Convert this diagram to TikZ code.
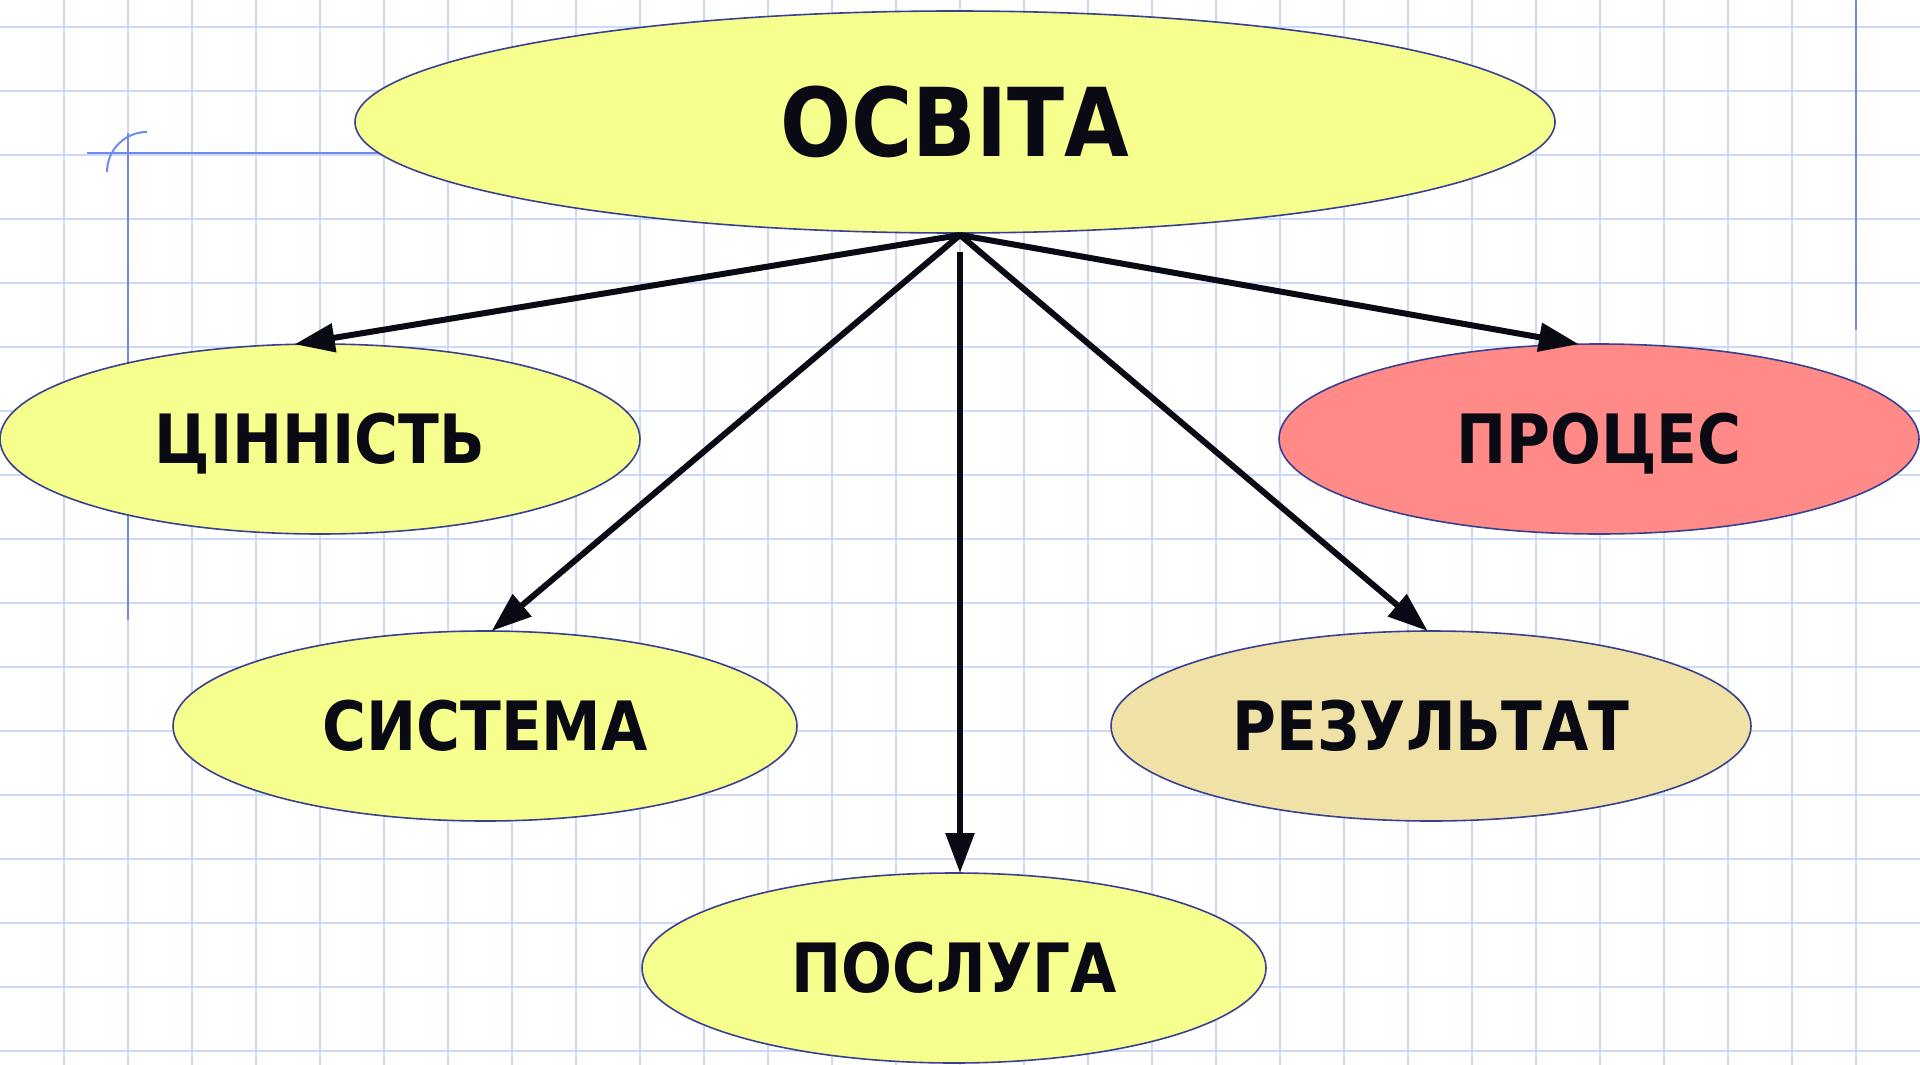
\documentclass[tikz,border=0pt]{standalone}
\usepackage{fontspec}
\newfontfamily\lblfont{DejaVu Sans}[FakeStretch=0.88]
\usetikzlibrary{arrows.meta,shapes.geometric}
\definecolor{gridc}{HTML}{CCD9F8}
\definecolor{guidec}{HTML}{6E8AF2}
\definecolor{edgec}{HTML}{3A4090}
\definecolor{yelfill}{HTML}{F6FE8E}
\definecolor{pinkfill}{HTML}{FF8A88}
\definecolor{tanfill}{HTML}{F0E2A6}
\definecolor{ink}{HTML}{0A0A14}
\begin{document}
\begin{tikzpicture}[x=1pt,y=-1pt,
  bubble/.style={ellipse, draw=edgec, line width=1.6pt, inner sep=0pt, outer sep=0pt,
    text=ink, minimum width=640pt, minimum height=190pt,
    font=\lblfont\bfseries\fontsize{68}{68}\selectfont, text height=49.6pt, text depth=0pt},
  bigbubble/.style={bubble, minimum width=1200pt, minimum height=222pt,
    font=\lblfont\bfseries\fontsize{95}{95}\selectfont, text height=69.3pt},
  arr/.style={draw=ink, line width=6pt, -{Triangle[length=40pt,width=28pt]}},
  gridline/.style={draw=gridc, line width=2pt},
  guide/.style={draw=guidec, line width=2pt}]
\useasboundingbox (0,0) rectangle (1920,1065);
\fill[white] (0,0) rectangle (1920,1065);
% grid
\foreach \i in {1,...,29} \draw[gridline] (64*\i,0) -- (64*\i,1065);
\foreach \j in {0,...,16} \draw[gridline] (0,27+64*\j) -- (1920,27+64*\j);
% guide lines
\draw[guide] (87,153) -- (400,153);
\draw[guide] (128,133) -- (128,620);
\draw[guide] (107,172) arc[start angle=180, end angle=270, radius=40];
\draw[guide] (1856,0) -- (1856,330);
% nodes
\node[bigbubble, fill=yelfill] (osv) at (955,122) {ОСВІТА};
\node[bubble, fill=yelfill] (cinn) at (320,439) {ЦІННІСТЬ};
\node[bubble, fill=pinkfill] (proc) at (1599,439) {ПРОЦЕС};
\node[bubble, fill=yelfill, minimum width=624pt] (sys) at (485,726) {СИСТЕМА};
\node[bubble, fill=tanfill] (res) at (1431,726) {РЕЗУЛЬТАТ};
\node[bubble, fill=yelfill, minimum width=624pt] (posl) at (954,968) {ПОСЛУГА};
% connectors
\coordinate (hub) at ([xshift=5pt,yshift=-2pt]osv.south);
\draw[arr] (hub) -- (cinn.105);
\draw[arr] (hub) -- (sys.86);
\draw[arr, shorten <=17pt] (hub) -- (hub |- posl.north);
\draw[arr] (hub) -- (res.92);
\draw[arr] (hub) -- (proc.102);
\end{tikzpicture}
\end{document}
